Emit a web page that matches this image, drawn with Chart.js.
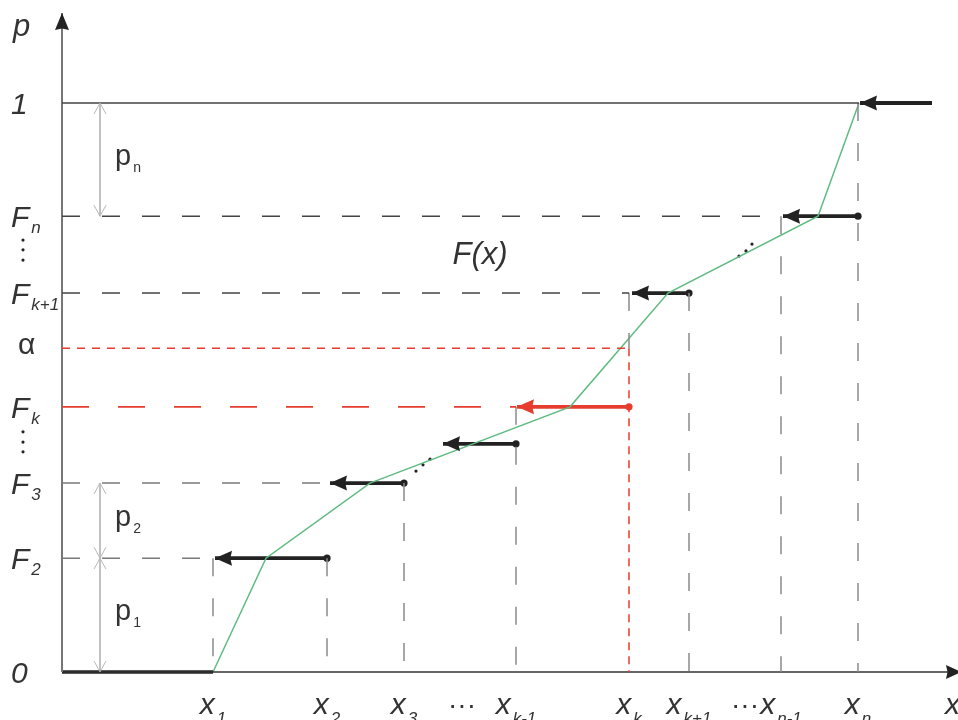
<!DOCTYPE html>
<html>
<head>
<meta charset="utf-8">
<script src="https://cdn.jsdelivr.net/npm/chart.js@4/dist/chart.umd.min.js"></script>
<style>
  html, body { margin: 0; padding: 0; background: #fff; }
  #wrap { width: 958px; height: 720px; }
</style>
</head>
<body>
<div id="wrap"><canvas id="c"></canvas></div>
<script>
// visible range in diagram units (x arbitrary, y = probability)
const xRange = [-0.62, 8.96];
const yRange = [-0.0844, 1.181];

// x values x1 .. xn
const xSubs = ["1", "2", "3", "k-1", "k", "k+1", "n-1", "n"];
const xValues = [1.51, 2.65, 3.42, 4.54, 5.67, 6.27, 7.19, 7.96];
const xTop = [0.200, 0.200, 0.332, 0.466, 0.666, 0.666, 0.801, 1];

// levels on the p axis
const levelMain = ["0", "F", "F", "F", "\u03b1", "F", "F", "1"];
const levelSubs = ["", "2", "3", "k", "", "k+1", "n", ""];
const levelValues = [0, 0.200, 0.332, 0.466, 0.569, 0.666, 0.801, 1];

// dashed horizontal guides
const guideLevel = [0.200, 0.332, 0.466, 0.569, 0.666, 0.801, 1];
const guideEnd = [1.45, 2.65, 4.54, 5.67, 5.67, 7.19, 7.97];

// piecewise linear F(x)
const cdfX = [1.51, 2.04, 3.08, 5.08, 6.06, 7.56, 7.97];
const cdfY = [0, 0.200, 0.332, 0.466, 0.666, 0.801, 1];

// step arrows, right end -> left tip
const stepFrom = [2.65, 3.42, 4.54, 5.67, 6.27, 7.96, 8.70];
const stepTo = [1.53, 2.68, 3.81, 4.55, 5.70, 7.21, 7.98];
const stepLevel = [0.200, 0.332, 0.401, 0.466, 0.666, 0.801, 1];

// probability spans p_i
const pSubs = ["n", "2", "1"];
const pTop = [1, 0.332, 0.200];
const pBottom = [0.801, 0.200, 0];

// ellipsis dots
const dotX = [-0.39, -0.39, -0.39, -0.39, -0.39, -0.39, 3.54, 3.61, 3.68, 6.77, 6.84, 6.90];
const dotY = [0.759, 0.742, 0.724, 0.422, 0.404, 0.387, 0.353, 0.364, 0.374, 0.731, 0.740, 0.752];

const RED = "#e63d2e";
const GREEN = "#5fbb80";
const INK = "#222";

function seg(x0, y0, x1, y1) {
  return [{ x: x0, y: y0 }, { x: x1, y: y1 }];
}

function lineSet(data, color, width, dash, extra) {
  return Object.assign({
    data,
    showLine: true,
    borderColor: color,
    backgroundColor: color,
    borderWidth: width,
    borderDash: dash || [],
    pointRadius: 0,
    clip: false
  }, extra || {});
}

const datasets = [];

// guides
guideLevel.forEach((lv, i) => {
  let color = "#444", dash = [18, 22], width = 1.4;
  if (i < 2) color = "#7a7a7a";
  if (i === 2) { color = RED; dash = [27, 29]; width = 1.6; }
  if (i === 3) { color = RED; dash = [8, 7]; width = 1.5; }
  if (i === guideLevel.length - 1) { dash = []; color = "#444"; }
  datasets.push(lineSet(seg(0, lv, guideEnd[i], lv), color, width, dash));
});

xValues.forEach((xv, i) => {
  const bottom = xSubs[i] === "k" ? levelValues[4] : 0;
  datasets.push(lineSet(seg(xv, xTop[i], xv, bottom), "#8a8a8a", 1.5, [18, 22]));
});
datasets.push(lineSet(seg(xValues[4], levelValues[4], xValues[4], 0), RED, 1.5, [8, 6]));

// axes
datasets.push(lineSet(seg(0, 0, 0, 1.158), "#777", 2, [], { arrowHead: [17, 7] }));
datasets.push(lineSet(seg(0, 0, 8.99, 0), "#333", 1.4, [], { arrowHead: [15, 7] }));
datasets.push(lineSet(seg(0, 0, xValues[0], 0), INK, 3.5));

// p spans
pSubs.forEach((s, i) => {
  datasets.push(lineSet(seg(0.38, pTop[i], 0.38, pBottom[i]), "#b8b8b8", 1, [], { openHeads: true }));
});

// F(x)
datasets.push(lineSet(cdfX.map((x, i) => ({ x, y: cdfY[i] })), GREEN, 1.5));

// step arrows
stepFrom.forEach((x0, i) => {
  const red = stepLevel[i] === levelValues[3];
  const color = red ? RED : INK;
  const last = i === stepFrom.length - 1;
  datasets.push(lineSet(seg(x0, stepLevel[i], stepTo[i], stepLevel[i]), color, 3.8, [], {
    arrowHead: [17, 7.5],
    pointRadius: last ? [0, 0] : [3.6, 0],
    pointBorderWidth: 0,
    pointBackgroundColor: color
  }));
});

// dots
datasets.push({
  data: dotX.map((x, i) => ({ x, y: dotY[i] })),
  pointRadius: 1.6,
  pointBorderWidth: 0,
  pointBackgroundColor: INK,
  showLine: false,
  clip: false
});

const arrowPlugin = {
  id: "arrows",
  afterDatasetsDraw(chart) {
    const ctx = chart.ctx;
    chart.data.datasets.forEach((ds, di) => {
      const pts = chart.getDatasetMeta(di).data;
      if (ds.arrowHead) {
        const a = pts[pts.length - 2], b = pts[pts.length - 1];
        const ang = Math.atan2(b.y - a.y, b.x - a.x);
        const [len, half] = ds.arrowHead;
        ctx.save();
        ctx.translate(b.x, b.y);
        ctx.rotate(ang);
        ctx.beginPath();
        ctx.moveTo(0, 0);
        ctx.lineTo(-len, -half);
        ctx.lineTo(-len * 0.9, 0);
        ctx.lineTo(-len, half);
        ctx.closePath();
        ctx.fillStyle = ds.borderColor === RED ? RED : INK;
        ctx.fill();
        ctx.restore();
      }
      if (ds.openHeads) {
        const ends = [[pts[0], pts[1]], [pts[1], pts[0]]];
        ctx.save();
        ctx.strokeStyle = ds.borderColor;
        ctx.lineWidth = 1;
        ends.forEach(([p, q]) => {
          const d = q.y > p.y ? 1 : -1;
          ctx.beginPath();
          ctx.moveTo(p.x - 6, p.y + d * 11);
          ctx.lineTo(p.x, p.y);
          ctx.lineTo(p.x + 6, p.y + d * 11);
          ctx.stroke();
        });
        ctx.restore();
      }
    });
  }
};

function subText(ctx, x, y, main, sub, mainFont, subFont, subDy, align) {
  ctx.font = mainFont;
  const wm = ctx.measureText(main).width;
  ctx.font = subFont;
  const ws = sub ? ctx.measureText(sub).width + 2 : 0;
  const left = align === "center" ? x - (wm + ws) / 2 : x;
  ctx.font = mainFont;
  ctx.fillText(main, left, y);
  if (sub) {
    ctx.font = subFont;
    ctx.fillText(sub, left + wm + 2, y + subDy);
  }
}

const labelPlugin = {
  id: "labels",
  afterDraw(chart) {
    const ctx = chart.ctx;
    const sx = chart.scales.x, sy = chart.scales.y;
    const it = "italic 30px 'Liberation Sans', Arial, sans-serif";
    const itSub = "italic 17px 'Liberation Sans', Arial, sans-serif";
    ctx.save();
    ctx.fillStyle = "#333";
    ctx.textAlign = "left";
    ctx.textBaseline = "alphabetic";

    // p axis title
    ctx.font = "italic 31px 'Liberation Sans', Arial, sans-serif";
    ctx.fillText("p", 13, 36);

    levelValues.forEach((v, i) => {
      const py = sy.getPixelForValue(v);
      if (levelMain[i] === "\u03b1") {
        ctx.font = "30px 'Liberation Sans', Arial, sans-serif";
        ctx.fillText(levelMain[i], 18, py + 6);
      } else {
        subText(ctx, 11, py + 11, levelMain[i], levelSubs[i], it, itSub, 6, "left");
      }
    });

    xValues.forEach((v, i) => {
      subText(ctx, sx.getPixelForValue(v), 714, "x", xSubs[i], it, itSub, 10, "center");
    });
    ctx.font = "28px 'Liberation Sans', Arial, sans-serif";
    ctx.textAlign = "center";
    ctx.fillText("\u00b7\u00b7\u00b7", sx.getPixelForValue(4.0), 714);
    ctx.fillText("\u00b7\u00b7\u00b7", sx.getPixelForValue(6.83), 714);
    ctx.textAlign = "left";
    ctx.font = it;
    ctx.fillText("x", 945, 714);

    // p_i labels
    pSubs.forEach((s, i) => {
      const mid = (sy.getPixelForValue(pTop[i]) + sy.getPixelForValue(pBottom[i])) / 2;
      subText(ctx, sx.getPixelForValue(0.53), mid + 5, "p", s,
        "29px 'Liberation Sans', Arial, sans-serif", "14px 'Liberation Sans', Arial, sans-serif", 7, "left");
    });

    ctx.font = "italic 31px 'Liberation Sans', Arial, sans-serif";
    ctx.textAlign = "center";
    ctx.fillText("F(x)", sx.getPixelForValue(4.18), sy.getPixelForValue(0.735) + 10);
    ctx.restore();
  }
};

new Chart(document.getElementById("c"), {
  type: "scatter",
  data: { datasets },
  options: {
    responsive: true,
    maintainAspectRatio: false,
    animation: false,
    layout: { padding: 0, autoPadding: false },
    plugins: { legend: { display: false }, tooltip: { enabled: false } },
    scales: {
      x: { type: "linear", display: false, min: xRange[0], max: xRange[1] },
      y: { type: "linear", display: false, min: yRange[0], max: yRange[1] }
    }
  },
  plugins: [arrowPlugin, labelPlugin]
});
</script>
</body>
</html>
